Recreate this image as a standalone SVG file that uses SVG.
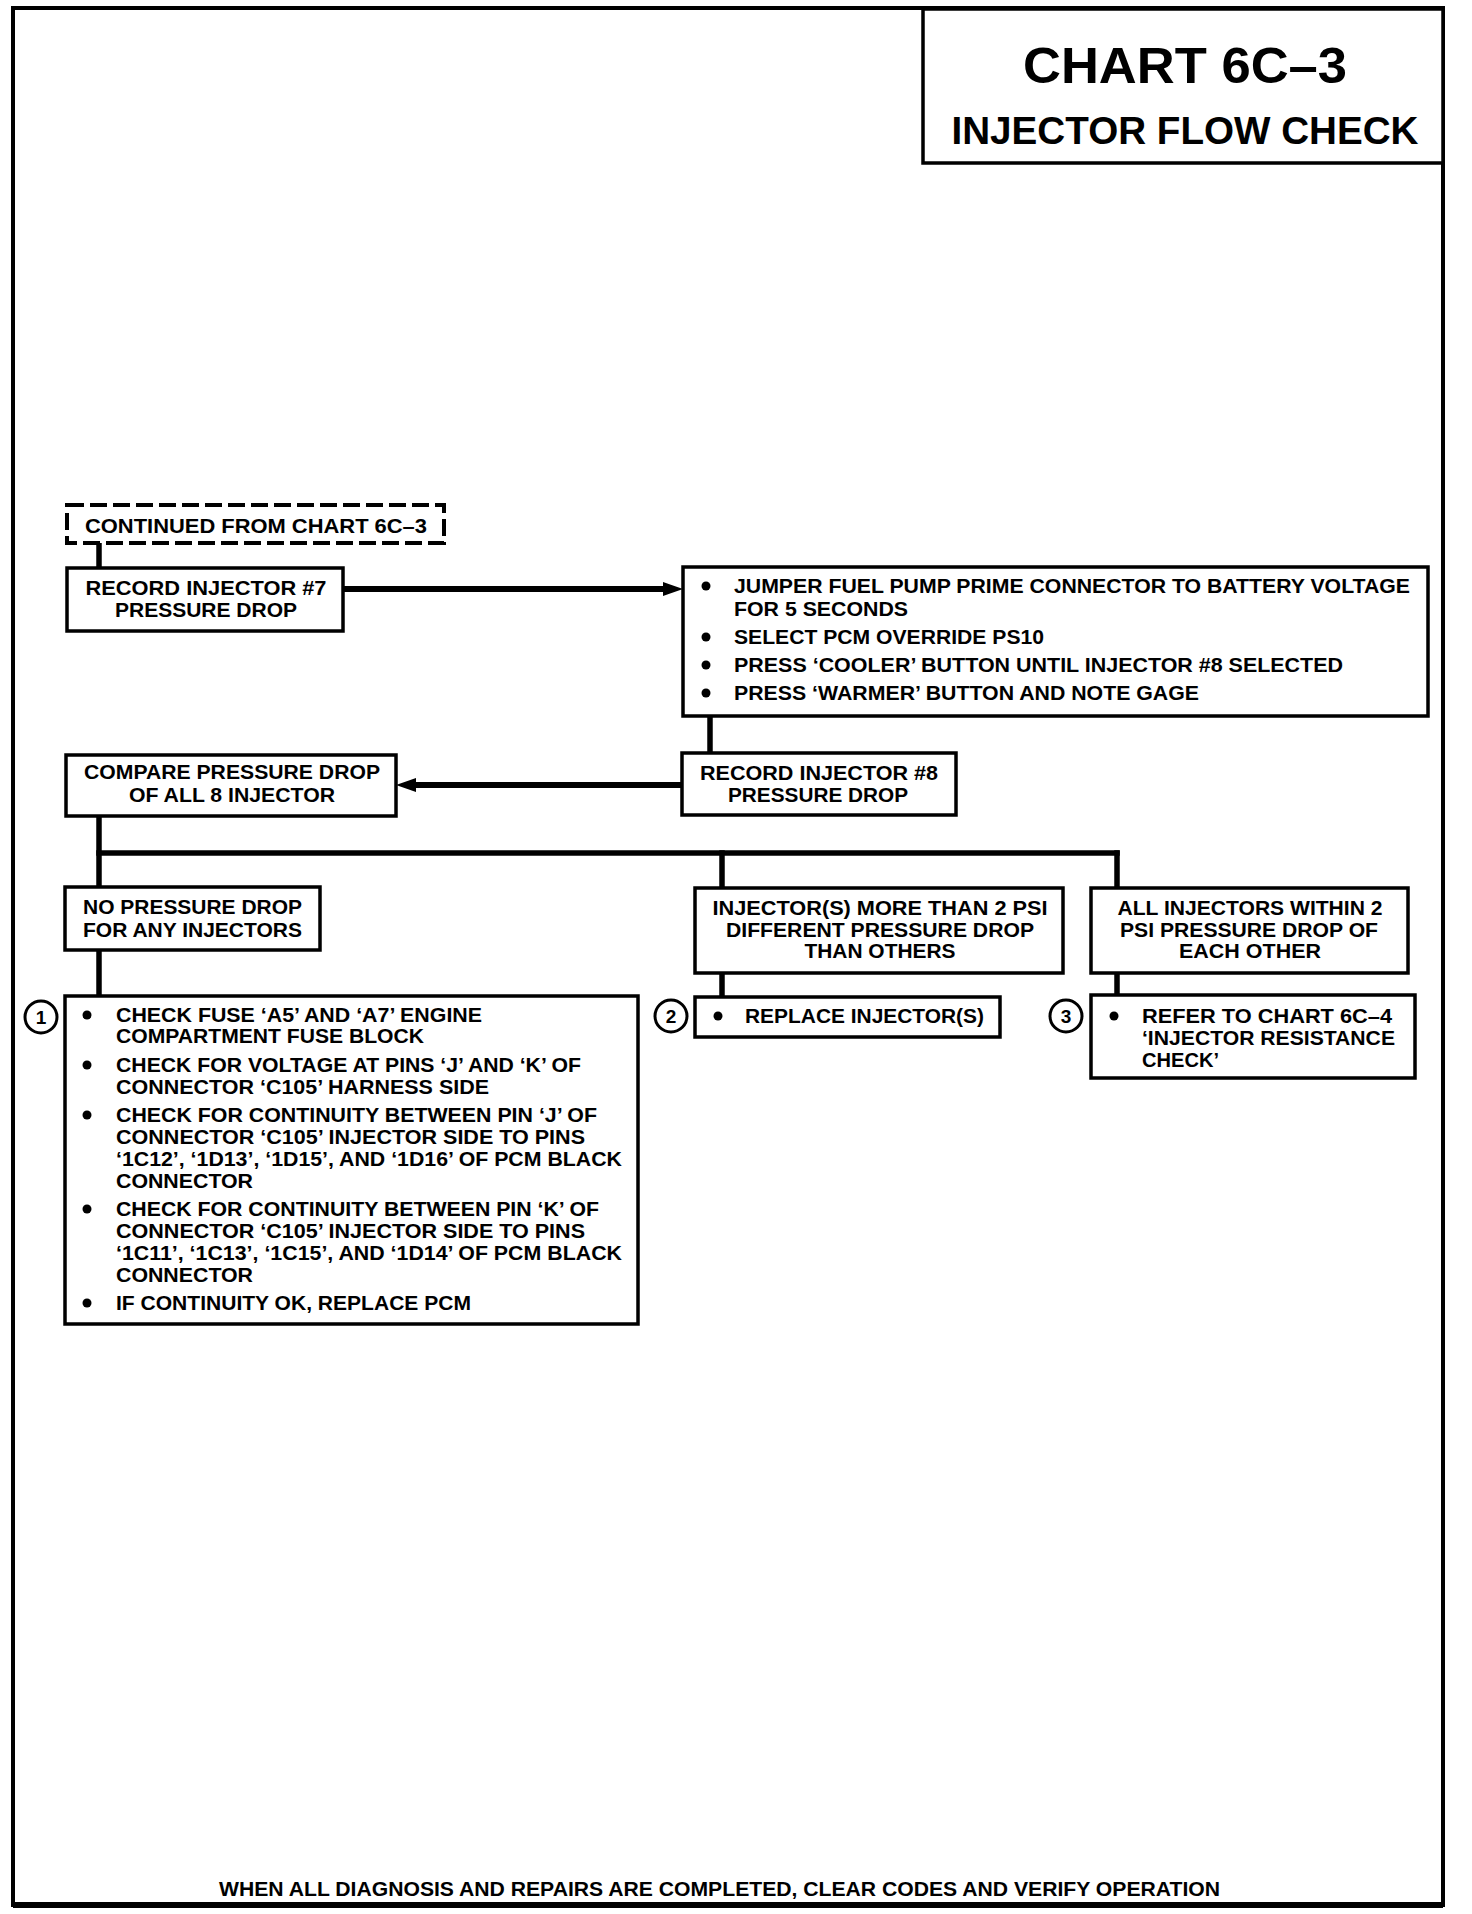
<svg xmlns="http://www.w3.org/2000/svg" width="1472" height="1914" viewBox="0 0 1472 1914">
<style>
.bg{fill:#fff}
.frame{fill:none;stroke:#000;stroke-width:4}
.box{fill:#fff;stroke:#000;stroke-width:3.5}
.dash{fill:#fff;stroke:#000;stroke-width:4;stroke-dasharray:17 6}
.ln{fill:none;stroke:#000;stroke-width:5.5;stroke-linecap:square}
.arr{fill:none;stroke:#000;stroke-width:6}
.t{font-family:"Liberation Sans",Arial,Helvetica,sans-serif;font-weight:bold;font-size:21px;fill:#000}
.c{text-anchor:middle}
.bt{font-family:"Liberation Sans",Arial,Helvetica,sans-serif;font-weight:bold;font-size:20px;fill:#000}
.num{font-family:"Liberation Sans",Arial,Helvetica,sans-serif;font-weight:bold;font-size:19px;fill:#000;text-anchor:middle}
.circ{fill:#fff;stroke:#000;stroke-width:3}
.dot{fill:#000}
</style>
<defs>
<marker id="ah" viewBox="0 0 20 14" markerWidth="20" markerHeight="14" markerUnits="userSpaceOnUse" refX="7" refY="7" orient="auto">
<path d="M0,0 L20,7 L0,14 z" fill="#000"/>
</marker>
</defs>
<rect class="bg" x="0" y="0" width="1472" height="1914"/>
<g id="frame">
<path class="frame" d="M13,8 L1443,8 L1443,1905 L13,1905 Z"/>
<line x1="13" y1="1905" x2="1443" y2="1905" stroke="#000" stroke-width="6"/>
</g>
<g id="title">
<rect class="box" x="923" y="9" width="520" height="154"/>
<text x="1185" y="83" font-family="Liberation Sans,Arial,sans-serif" font-weight="bold" font-size="50" text-anchor="middle" textLength="324" lengthAdjust="spacingAndGlyphs">CHART 6C–3</text>
<text x="1185" y="144" font-family="Liberation Sans,Arial,sans-serif" font-weight="bold" font-size="39" text-anchor="middle" textLength="467" lengthAdjust="spacingAndGlyphs">INJECTOR FLOW CHECK</text>
</g>
<g id="connectors">
<line class="ln" x1="99" y1="543" x2="99" y2="568"/>
<line class="arr" x1="343" y1="589" x2="670" y2="589" marker-end="url(#ah)"/>
<line class="ln" x1="710" y1="716" x2="710" y2="753"/>
<line class="arr" x1="682" y1="785" x2="409" y2="785" marker-end="url(#ah)"/>
<line class="ln" x1="99" y1="816" x2="99" y2="887"/>
<line class="ln" x1="99" y1="853" x2="1117" y2="853"/>
<line class="ln" x1="722" y1="853" x2="722" y2="888"/>
<line class="ln" x1="1117" y1="853" x2="1117" y2="888"/>
<line class="ln" x1="99" y1="950" x2="99" y2="996"/>
<line class="ln" x1="722" y1="973" x2="722" y2="997"/>
<line class="ln" x1="1117" y1="973" x2="1117" y2="995"/>
</g>
<g id="continued">
<rect class="dash" x="67" y="505" width="377" height="38"/>
<text class="t" x="85" y="533" textLength="342" lengthAdjust="spacingAndGlyphs">CONTINUED FROM CHART 6C–3</text>
</g>
<g id="record7">
<rect class="box" x="67" y="568" width="276" height="63"/>
<text class="t c" x="206" y="595" textLength="241" lengthAdjust="spacingAndGlyphs">RECORD INJECTOR #7</text>
<text class="t c" x="206" y="617" textLength="182" lengthAdjust="spacingAndGlyphs">PRESSURE DROP</text>
</g>
<g id="jumper">
<rect class="box" x="683" y="567" width="745" height="149"/>
<circle class="dot" cx="706" cy="586" r="4.5"/>
<circle class="dot" cx="706" cy="637" r="4.5"/>
<circle class="dot" cx="706" cy="665" r="4.5"/>
<circle class="dot" cx="706" cy="693" r="4.5"/>
<text class="t" x="734" y="593" textLength="676" lengthAdjust="spacingAndGlyphs">JUMPER FUEL PUMP PRIME CONNECTOR TO BATTERY VOLTAGE</text>
<text class="t" x="734" y="616" textLength="174" lengthAdjust="spacingAndGlyphs">FOR 5 SECONDS</text>
<text class="t" x="734" y="644" textLength="310" lengthAdjust="spacingAndGlyphs">SELECT PCM OVERRIDE PS10</text>
<text class="t" x="734" y="672" textLength="609" lengthAdjust="spacingAndGlyphs">PRESS ‘COOLER’ BUTTON UNTIL INJECTOR #8 SELECTED</text>
<text class="t" x="734" y="700" textLength="465" lengthAdjust="spacingAndGlyphs">PRESS ‘WARMER’ BUTTON AND NOTE GAGE</text>
</g>
<g id="record8">
<rect class="box" x="682" y="753" width="274" height="62"/>
<text class="t c" x="819" y="780" textLength="238" lengthAdjust="spacingAndGlyphs">RECORD INJECTOR #8</text>
<text class="t c" x="818" y="802" textLength="180" lengthAdjust="spacingAndGlyphs">PRESSURE DROP</text>
</g>
<g id="compare">
<rect class="box" x="66" y="755" width="330" height="61"/>
<text class="t c" x="232" y="779" textLength="296" lengthAdjust="spacingAndGlyphs">COMPARE PRESSURE DROP</text>
<text class="t c" x="232" y="802" textLength="206" lengthAdjust="spacingAndGlyphs">OF ALL 8 INJECTOR</text>
</g>
<g id="nopressure">
<rect class="box" x="65" y="887" width="255" height="63"/>
<text class="t" x="83" y="914" textLength="219" lengthAdjust="spacingAndGlyphs">NO PRESSURE DROP</text>
<text class="t" x="83" y="937" textLength="219" lengthAdjust="spacingAndGlyphs">FOR ANY INJECTORS</text>
</g>
<g id="different">
<rect class="box" x="695" y="888" width="368" height="85"/>
<text class="t c" x="880" y="915" textLength="335" lengthAdjust="spacingAndGlyphs">INJECTOR(S) MORE THAN 2  PSI</text>
<text class="t c" x="880" y="937" textLength="308" lengthAdjust="spacingAndGlyphs">DIFFERENT PRESSURE DROP</text>
<text class="t c" x="880" y="958" textLength="151" lengthAdjust="spacingAndGlyphs">THAN OTHERS</text>
</g>
<g id="within">
<rect class="box" x="1091" y="888" width="317" height="85"/>
<text class="t c" x="1250" y="915" textLength="265" lengthAdjust="spacingAndGlyphs">ALL INJECTORS WITHIN 2</text>
<text class="t c" x="1249" y="937" textLength="258" lengthAdjust="spacingAndGlyphs">PSI PRESSURE DROP OF</text>
<text class="t c" x="1250" y="958" textLength="142" lengthAdjust="spacingAndGlyphs">EACH OTHER</text>
</g>
<g id="step1">
<circle class="circ" cx="41" cy="1017" r="16"/>
<text class="num" x="41" y="1024">1</text>
<rect class="box" x="65" y="996" width="573" height="328"/>
<circle class="dot" cx="87" cy="1015" r="4.5"/>
<circle class="dot" cx="87" cy="1065" r="4.5"/>
<circle class="dot" cx="87" cy="1115" r="4.5"/>
<circle class="dot" cx="87" cy="1209" r="4.5"/>
<circle class="dot" cx="87" cy="1303" r="4.5"/>
<text class="t" x="116" y="1022" textLength="366" lengthAdjust="spacingAndGlyphs">CHECK FUSE ‘A5’ AND ‘A7’ ENGINE</text>
<text class="t" x="116" y="1043" textLength="308" lengthAdjust="spacingAndGlyphs">COMPARTMENT FUSE BLOCK</text>
<text class="t" x="116" y="1072" textLength="465" lengthAdjust="spacingAndGlyphs">CHECK FOR VOLTAGE AT PINS ‘J’ AND ‘K’ OF</text>
<text class="t" x="116" y="1094" textLength="373" lengthAdjust="spacingAndGlyphs">CONNECTOR ‘C105’ HARNESS SIDE</text>
<text class="t" x="116" y="1122" textLength="481" lengthAdjust="spacingAndGlyphs">CHECK FOR CONTINUITY BETWEEN PIN ‘J’ OF</text>
<text class="t" x="116" y="1144" textLength="469" lengthAdjust="spacingAndGlyphs">CONNECTOR ‘C105’ INJECTOR SIDE TO PINS</text>
<text class="t" x="116" y="1166" textLength="506" lengthAdjust="spacingAndGlyphs">‘1C12’, ‘1D13’, ‘1D15’, AND ‘1D16’ OF PCM BLACK</text>
<text class="t" x="116" y="1188" textLength="137" lengthAdjust="spacingAndGlyphs">CONNECTOR</text>
<text class="t" x="116" y="1216" textLength="483" lengthAdjust="spacingAndGlyphs">CHECK FOR CONTINUITY BETWEEN PIN ‘K’ OF</text>
<text class="t" x="116" y="1238" textLength="469" lengthAdjust="spacingAndGlyphs">CONNECTOR ‘C105’ INJECTOR SIDE TO PINS</text>
<text class="t" x="116" y="1260" textLength="506" lengthAdjust="spacingAndGlyphs">‘1C11’, ‘1C13’, ‘1C15’, AND ‘1D14’ OF PCM BLACK</text>
<text class="t" x="116" y="1282" textLength="137" lengthAdjust="spacingAndGlyphs">CONNECTOR</text>
<text class="t" x="116" y="1310" textLength="355" lengthAdjust="spacingAndGlyphs">IF CONTINUITY OK, REPLACE PCM</text>
</g>
<g id="step2">
<circle class="circ" cx="671" cy="1016" r="16"/>
<text class="num" x="671" y="1023">2</text>
<rect class="box" x="695" y="997" width="305" height="40"/>
<circle class="dot" cx="718" cy="1016" r="4.5"/>
<text class="t" x="745" y="1023" textLength="239" lengthAdjust="spacingAndGlyphs">REPLACE INJECTOR(S)</text>
</g>
<g id="step3">
<circle class="circ" cx="1066" cy="1016" r="16"/>
<text class="num" x="1066" y="1023">3</text>
<rect class="box" x="1091" y="995" width="324" height="83"/>
<circle class="dot" cx="1114" cy="1016" r="4.5"/>
<text class="t" x="1142" y="1023" textLength="250" lengthAdjust="spacingAndGlyphs">REFER TO CHART 6C–4</text>
<text class="t" x="1142" y="1045" textLength="253" lengthAdjust="spacingAndGlyphs">‘INJECTOR RESISTANCE</text>
<text class="t" x="1142" y="1067" textLength="77" lengthAdjust="spacingAndGlyphs">CHECK’</text>
</g>
<g id="footer">
<text class="bt" x="219" y="1896" textLength="1001" lengthAdjust="spacingAndGlyphs">WHEN ALL DIAGNOSIS AND REPAIRS ARE COMPLETED, CLEAR CODES AND VERIFY OPERATION</text>
</g>
</svg>
